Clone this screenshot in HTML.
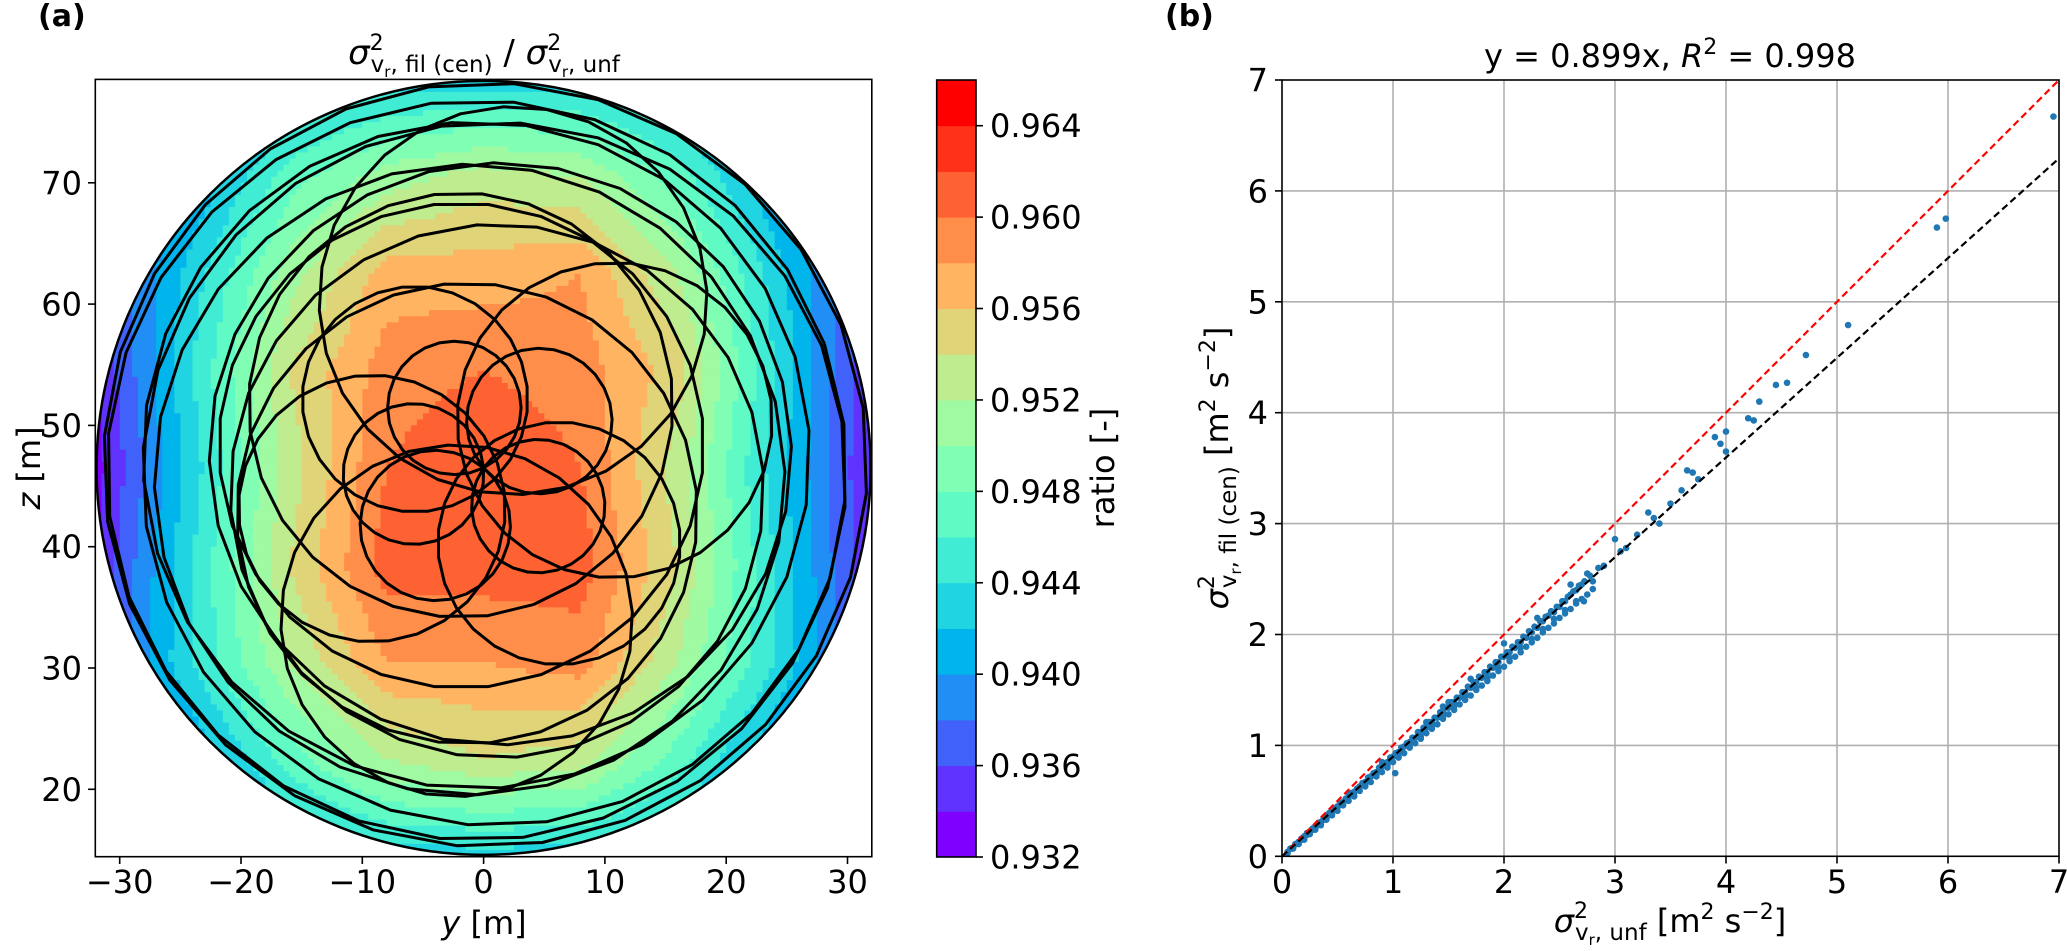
<!DOCTYPE html>
<html><head><meta charset="utf-8"><style>
html,body{margin:0;padding:0;background:#fff;}
svg{display:block;font-family:"DejaVu Sans","Liberation Sans",sans-serif;}
</style></head><body>
<svg id="fig" width="2067" height="951" viewBox="0 0 2067 951" xmlns="http://www.w3.org/2000/svg">
<defs><clipPath id="diskclip"><circle cx="483.6" cy="467.9" r="388"/></clipPath>
<clipPath id="rclip"><rect x="1282" y="80" width="777" height="776.3"/></clipPath></defs>
<text x="38" y="26" font-size="30" font-weight="bold">(a)</text>
<text x="1165" y="26" font-size="30" font-weight="bold">(b)</text>
<g id="left"></g>
<g id="cbar"></g>
<g id="right"></g>
</svg>
<script>
// ---------- Panel (a) data ----------
const gridY = [-32,-24,-16,-8,0,8,16,24,32];
const gridZ = [78.5,70.5,62.5,54.5,46.5,38.5,30.5,22.5,14.5];
const ratioRow1 = [.935,.938,.941,.943,.943,.943,.941,.938,.935];
const ratioRow2 = [.934,.940,.947,.951,.953,.952,.947,.940,.934];
const ratioRow3 = [.935,.943,.951,.957,.957,.958,.952,.943,.935];
const ratioRow4 = [.934,.944,.954,.959,.960,.959,.955,.944,.934];
const ratioRow5 = [.933,.943,.953,.960,.962,.960,.953,.943,.934];
const ratioRow6 = [.934,.944,.954,.961,.961,.961,.954,.944,.934];
const ratioRow7 = [.935,.944,.952,.958,.958,.959,.952,.944,.935];
const ratioRow8 = [.934,.940,.947,.952,.954,.953,.947,.940,.934];
const ratioRow9 = [.935,.938,.941,.943,.943,.943,.941,.938,.935];
const ratioGrid = [ratioRow1,ratioRow2,ratioRow3,ratioRow4,ratioRow5,ratioRow6,ratioRow7,ratioRow8,ratioRow9];
const levelMin = 0.932, levelStep = 0.002, levelCount = 17;
const cbarTicks = ["0.932","0.936","0.940","0.944","0.948","0.952","0.956","0.960","0.964"];
const xTicksA = [-30,-20,-10,0,10,20,30];
const zTicksA = [20,30,40,50,60,70];
// scan loops: loop radius, offset of loop centre from disk centre, direction of offset (deg)
const loopRadius = [5.5,6.0,5.5,6.2,5.8, 9.3,10.0,11.0,13.0,14.5,16.0, 17.5,19.0,20.0, 22.0,24.0,26.0,27.5,29.0,30.5,31.5];
const loopOffset = [5.5,6.0,5.5,6.2,5.8, 8.0,8.8,9.8,11.5,12.8,14.0, 5.5,4.0,2.6, 2.2,1.8,1.5,1.2,1.0,0.6,0.3];
const loopAngle  = [116,40,-35,-130,185, 135,-45,200,20,-100,80, 110,250,135, 300,40,220,120,330,200,60];
const centerY = 0, centerZ = 46.5;

// ---------- Panel (b) data ----------
const sx = [0.05,0.08,0.1,0.12,0.15,0.18,0.2,0.22,0.25,0.28,0.3,0.32,0.35,0.38,0.4,0.42,0.45,0.48,0.5,0.52,0.55,0.58,0.6,0.62,0.65,0.68,0.7,0.72,0.75,0.78,0.8,0.82,0.85,0.88,0.9,0.92,0.95,0.98,1.0,1.02,1.05,1.08,1.1,1.15,1.2,1.25,1.3,1.35,1.4,1.45,1.5,1.55,1.6,1.65,1.7,1.75,1.8,1.85,1.9,1.95,2.0,2.05,2.1,2.15,2.2,2.25,2.3,2.35,2.4,2.45,2.5,2.55,2.6,2.65,2.7,2.72,2.75,2.8,2.85,2.9,3.0,3.05,3.1,3.2,3.3,3.35,3.4,3.5,3.6,3.65,3.7,3.75,3.9,3.95,4.0,4.0,4.2,4.25,4.3,4.45,4.55,4.72,5.1,5.9,5.98,6.95,
0.15,0.25,0.35,0.45,0.55,0.65,0.75,0.85,0.95,1.05,1.15,1.25,1.35,1.45,1.55,1.65,1.75,1.85,1.95,2.05,2.15,2.25,2.35,2.45,2.55,2.65,1.3,1.5,1.7,2.0,2.3,2.6,0.9,0.6,1.45];
const sy = [0.04,0.07,0.08,0.11,0.13,0.15,0.18,0.19,0.22,0.24,0.27,0.28,0.31,0.33,0.36,0.37,0.40,0.42,0.45,0.46,0.49,0.51,0.54,0.55,0.58,0.60,0.63,0.64,0.67,0.69,0.72,0.73,0.76,0.78,0.81,0.82,0.85,0.88,0.90,0.75,0.94,0.96,0.99,1.03,1.07,1.12,1.16,1.21,1.25,1.30,1.34,1.39,1.43,1.48,1.52,1.57,1.61,1.66,1.70,1.75,1.80,1.84,1.88,1.93,1.97,2.02,2.06,2.12,2.17,2.20,2.25,2.30,2.36,2.40,2.45,2.30,2.55,2.48,2.60,2.62,2.86,2.75,2.78,2.90,3.10,3.05,3.00,3.18,3.30,3.48,3.46,3.40,3.78,3.72,3.83,3.65,3.95,3.93,4.10,4.25,4.27,4.52,4.79,5.67,5.75,6.67,
0.12,0.21,0.29,0.38,0.47,0.55,0.64,0.73,0.82,0.90,0.99,1.08,1.17,1.26,1.35,1.44,1.52,1.61,1.70,1.79,1.88,1.96,2.05,2.14,2.22,2.30,1.21,1.39,1.60,1.92,2.15,2.45,0.85,0.57,1.35];
const bandLowX = [.05,.1,.15,.2,.25,.3,.35,.4,.45,.5,.55,.6,.65,.7,.75,.8,.85,.9,.95,1.0,1.05,1.1,1.15,1.2,1.25,1.3,1.35,1.4,1.45,1.5,1.55,1.6,1.65,1.7,1.75,1.8,1.85,1.9,1.95,2.0,2.05,2.1,2.15,2.2,2.25,2.3,2.35,2.4,2.45,2.5,2.55,2.6,2.65,2.7,2.75,2.8];
const bandLowY = [.03,.07,.11,.15,.2,.24,.28,.33,.37,.41,.46,.5,.54,.59,.63,.67,.72,.76,.8,.85,.89,.93,.98,1.02,1.06,1.11,1.15,1.19,1.24,1.28,1.32,1.37,1.41,1.45,1.5,1.54,1.58,1.63,1.67,1.71,1.76,1.8,1.84,1.89,1.93,1.97,2.02,2.06,2.1,2.15,2.19,2.23,2.28,2.32,2.36,2.41];
const bandHighX = [.075,.125,.175,.225,.275,.325,.375,.425,.475,.525,.575,.625,.675,.725,.775,.825,.875,.925,.975,1.025,1.075,1.125,1.175,1.225,1.275,1.325,1.375,1.425,1.475,1.525,1.575,1.625,1.675,1.725,1.775,1.825,1.875,1.925,1.975,2.025,2.075,2.125,2.175,2.225,2.275,2.325,2.375,2.425,2.475,2.525,2.575,2.625,2.675,2.725,2.775];
const bandHighY = [.07,.11,.16,.21,.25,.30,.34,.39,.43,.48,.52,.57,.61,.66,.71,.75,.80,.84,.89,.93,.98,1.02,1.07,1.12,1.16,1.21,1.25,1.30,1.34,1.39,1.43,1.48,1.53,1.57,1.62,1.66,1.71,1.75,1.80,1.84,1.89,1.93,1.98,2.03,2.07,2.12,2.16,2.21,2.25,2.30,2.34,2.39,2.44,2.48,2.53];
const fitSlope = 0.899;
const ticksB = [0,1,2,3,4,5,6,7];

const NS = "http://www.w3.org/2000/svg";
function mk(tag, attrs, parent){const e=document.createElementNS(NS,tag);for(const k in attrs)e.setAttribute(k,attrs[k]);parent.appendChild(e);return e;}

// ---------- axis functions ----------
const pxA = y => 483.6 + y*12.13;
const pzA = z => 789.3 - (z-20)*12.13;
const pxB = v => 1282 + v*111;
const pyB = v => 856.3 - v*110.9;
const cbY = v => 857 - (v-levelMin)/(levelStep*levelCount)*777;

function rainbow(x){
  const r=Math.min(1,Math.abs(2*x-0.5)), g=Math.max(0,Math.sin(Math.PI*x)), b=Math.max(0,Math.cos(Math.PI*x/2));
  return `rgb(${Math.round(r*255)},${Math.round(g*255)},${Math.round(b*255)})`;
}
const bandColor = i => rainbow(i/(levelCount-1));

function field(y,z){
  let fi=(y-gridY[0])/8, fj=(gridZ[0]-z)/8;
  fi=Math.max(0,Math.min(7.9999,fi)); fj=Math.max(0,Math.min(7.9999,fj));
  const i=Math.floor(fi), j=Math.floor(fj), a=fi-i, b=fj-j;
  return ratioGrid[j][i]*(1-a)*(1-b)+ratioGrid[j][i+1]*a*(1-b)+ratioGrid[j+1][i]*(1-a)*b+ratioGrid[j+1][i+1]*a*b;
}

// ---------- Panel (a) ----------
const L = document.getElementById('left');
mk('rect',{x:95.3,y:79.4,width:776.5,height:777.3,fill:'#fff'},L);
const disk = mk('g',{'clip-path':'url(#diskclip)'},L);


const st=0.5;
for(let z=78.5; z>14.5; z-=st){
  let runStart=-32, runLev=null;
  for(let y=-32; y<=32+1e-9; y+=st){
    let lev=null;
    if(y<32-1e-9){
      const v=field(y+st/2, z-st/2);
      lev=Math.max(0,Math.min(levelCount-1,Math.floor((v-levelMin)/levelStep)));
    }
    if(lev!==runLev){
      if(runLev!==null){
        mk('rect',{x:pxA(runStart),y:pzA(z),width:pxA(y)-pxA(runStart)+0.6,height:st*12.13+0.6,fill:bandColor(runLev)},disk);
      }
      runStart=y; runLev=lev;
    }
  }
}
// scan trajectory loops (polygonal circles)
const Oy=pxA(centerY), Oz=pzA(centerZ);
const trajG=mk('g',{'clip-path':'url(#diskclip)'},L);


for(let k=0;k<loopRadius.length;k++){
  const R=loopRadius[k]*12.13, D=loopOffset[k]*12.13, ph=loopAngle[k]*Math.PI/180;
  const cx=Oy+D*Math.cos(ph), cy=Oz-D*Math.sin(ph);
  const n=28; let d='';
  for(let s=0;s<=n;s++){
    const t=ph+Math.PI+2*Math.PI*s/n;
    d+=(s===0?'M':'L')+(cx+R*Math.cos(t)).toFixed(1)+','+(cy-R*Math.sin(t)).toFixed(1);
  }
  const p=mk('path',{d:d,fill:'none',stroke:'#000','stroke-width':3,'stroke-linejoin':'round'},trajG);
  
  
}
const edge=mk('circle',{cx:Oy,cy:Oz,r:387,fill:'none',stroke:'#000','stroke-width':2.5},L);


mk('rect',{x:95.3,y:79.4,width:776.5,height:777.3,fill:'none',stroke:'#000','stroke-width':1.6},L);
xTicksA.forEach(t=>{
  const x=pxA(t);
  mk('line',{x1:x,x2:x,y1:856.7,y2:864,stroke:'#000','stroke-width':1.6},L);
  const tx=mk('text',{x:x,y:893,'font-size':32,'text-anchor':'middle'},L);
  tx.textContent=(t<0?'\u2212':'')+Math.abs(t);
  
  
});
zTicksA.forEach(t=>{
  const y=pzA(t);
  mk('line',{x1:88,x2:95.3,y1:y,y2:y,stroke:'#000','stroke-width':1.6},L);
  const tx=mk('text',{x:82,y:y+11.5,'font-size':32,'text-anchor':'end'},L);
  tx.textContent=t;
  
  
});
L.insertAdjacentHTML('beforeend',
 '<text x="484" y="934" font-size="32" text-anchor="middle"><tspan font-style="italic">y</tspan> [m]</text>'+
 '<text transform="translate(40,468) rotate(-90)" font-size="32" text-anchor="middle"><tspan font-style="italic">z</tspan> [m]</text>'+
 '<text x="484" y="64" font-size="34" text-anchor="middle"><tspan font-style="italic">σ</tspan><tspan font-size="22" dy="-14">2</tspan><tspan font-size="23" dx="-13" dy="22">v</tspan><tspan font-size="15" dy="5">r</tspan><tspan font-size="23" dy="-5">, fil (cen)</tspan><tspan dy="-8"> / </tspan><tspan font-style="italic">σ</tspan><tspan font-size="22" dy="-14">2</tspan><tspan font-size="23" dx="-13" dy="22">v</tspan><tspan font-size="15" dy="5">r</tspan><tspan font-size="23" dy="-5">, unf</tspan></text>');

// ---------- colorbar ----------
const C=document.getElementById('cbar');
for(let i=0;i<levelCount;i++){
  const y0=cbY(levelMin+(i+1)*levelStep), y1=cbY(levelMin+i*levelStep);
  const r=mk('rect',{x:936.7,y:y0,width:39.3,height:y1-y0+0.5,fill:bandColor(i)},C);
  
  
}
mk('rect',{x:936.7,y:80,width:39.3,height:777,fill:'none',stroke:'#000','stroke-width':1.6},C);
cbarTicks.forEach(t=>{
  const y=cbY(parseFloat(t));
  mk('line',{x1:976,x2:983,y1:y,y2:y,stroke:'#000','stroke-width':1.6},C);
  const tx=mk('text',{x:990,y:y+11.5,'font-size':32},C);
  tx.textContent=t;
  
  
});
C.insertAdjacentHTML('beforeend','<text transform="translate(1114,468) rotate(-90)" font-size="32" text-anchor="middle">ratio [-]</text>');

// ---------- Panel (b) ----------
const Rg=document.getElementById('right');
ticksB.forEach(t=>{
  if(t>0&&t<7){
    mk('line',{x1:pxB(t),x2:pxB(t),y1:80,y2:856.3,stroke:'#b0b0b0','stroke-width':1.6},Rg);
    mk('line',{x1:1282,x2:2059,y1:pyB(t),y2:pyB(t),stroke:'#b0b0b0','stroke-width':1.6},Rg);
  }
});
const clipG=mk('g',{'clip-path':'url(#rclip)'},Rg);
function dots(xs,ys){
  const n=Math.min(xs.length,ys.length);
  for(let i=0;i<n;i++){
    const c=mk('circle',{cx:pxB(xs[i]),cy:pyB(ys[i]),r:3.3,fill:'#1f77b4'},clipG);
    
    
  }
}
dots(sx,sy); dots(bandLowX,bandLowY); dots(bandHighX,bandHighY);
const oneLine=mk('line',{x1:pxB(0),y1:pyB(0),x2:pxB(7),y2:pyB(7),stroke:'#ff0000','stroke-width':2.2,'stroke-dasharray':'7,4'},clipG);


const fitLine=mk('line',{x1:pxB(0),y1:pyB(0),x2:pxB(7),y2:pyB(7*fitSlope),stroke:'#000','stroke-width':2.2,'stroke-dasharray':'7,4'},clipG);


mk('rect',{x:1282,y:80,width:777,height:776.3,fill:'none',stroke:'#000','stroke-width':1.6},Rg);
ticksB.forEach(t=>{
  mk('line',{x1:pxB(t),x2:pxB(t),y1:856.3,y2:863.5,stroke:'#000','stroke-width':1.6},Rg);
  const tx=mk('text',{x:pxB(t),y:893,'font-size':32,'text-anchor':'middle'},Rg);
  tx.textContent=t;
  
  
  mk('line',{x1:1275,x2:1282,y1:pyB(t),y2:pyB(t),stroke:'#000','stroke-width':1.6},Rg);
  const ty=mk('text',{x:1268,y:pyB(t)+11.5,'font-size':32,'text-anchor':'end'},Rg);
  ty.textContent=t;
  
  
});
Rg.insertAdjacentHTML('beforeend',
 '<text x="1670" y="67" font-size="32" text-anchor="middle">y = 0.899x, <tspan font-style="italic">R</tspan><tspan font-size="22" dy="-13">2</tspan><tspan dy="13"> = 0.998</tspan></text>'+
 '<text x="1670" y="932" font-size="32" text-anchor="middle"><tspan font-style="italic">σ</tspan><tspan font-size="22" dy="-14">2</tspan><tspan font-size="23" dx="-13" dy="22">v</tspan><tspan font-size="15" dy="5">r</tspan><tspan font-size="23" dy="-5">, unf</tspan><tspan dy="-8"> [m</tspan><tspan font-size="22" dy="-13">2</tspan><tspan dy="13"> s</tspan><tspan font-size="22" dy="-13">−2</tspan><tspan dy="13">]</tspan></text>'+
 '<text transform="translate(1228,468) rotate(-90)" font-size="32" text-anchor="middle"><tspan font-style="italic">σ</tspan><tspan font-size="22" dy="-14">2</tspan><tspan font-size="23" dx="-13" dy="22">v</tspan><tspan font-size="15" dy="5">r</tspan><tspan font-size="23" dy="-5">, fil (cen)</tspan><tspan dy="-8"> [m</tspan><tspan font-size="22" dy="-13">2</tspan><tspan dy="13"> s</tspan><tspan font-size="22" dy="-13">−2</tspan><tspan dy="13">]</tspan></text>');
</script>
</body></html>
